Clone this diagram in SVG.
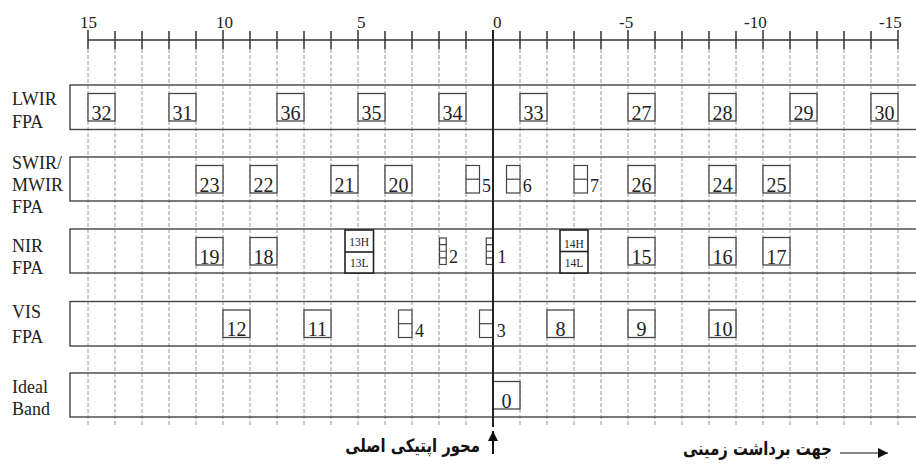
<svg xmlns="http://www.w3.org/2000/svg" width="916" height="465" viewBox="0 0 916 465">
<style>
.bg{fill:#fff}
.grid line{stroke:#8c8c8c;stroke-width:0.9;stroke-dasharray:4 2}
.tick{stroke:#333;stroke-width:1.5}
.ax{font-family:"Liberation Serif","Times New Roman",serif;font-size:17px;fill:#222}
.band{fill:none;stroke:#444;stroke-width:1.4}
.lab{font-family:"Liberation Serif","Times New Roman",serif;font-size:18px;fill:#222}
.box rect,.box line{fill:#fff;stroke:#444;stroke-width:1.3}
.box text{font-family:"Liberation Serif","Times New Roman",serif;font-size:20px;fill:#222;text-anchor:middle}
.sm rect,.sm line{fill:#fff;stroke:#444;stroke-width:1.2}
.sm text{font-family:"Liberation Serif","Times New Roman",serif;font-size:18px;fill:#222}
.hl rect,.hl line{fill:#fff;stroke:#222;stroke-width:1.6}
.hl text{font-family:"Liberation Serif","Times New Roman",serif;font-size:11.5px;fill:#222;text-anchor:middle}
.fa{font-family:"DejaVu Sans","Noto Sans",sans-serif;font-weight:bold;font-size:18.5px;fill:#111;text-anchor:middle}
</style>
<defs>
<marker id="ah" viewBox="0 0 10 10" refX="10" refY="5" markerWidth="20" markerHeight="10" markerUnits="userSpaceOnUse" orient="auto">
<path d="M0,0 L10,5 L0,10 Z" fill="#111"/>
</marker>
</defs>
<rect class="bg" x="0" y="0" width="916" height="465"/>

<g id="grid" class="grid">
<line x1="88" y1="49" x2="88" y2="426"/><line x1="115" y1="49" x2="115" y2="426"/><line x1="142" y1="49" x2="142" y2="426"/><line x1="169" y1="49" x2="169" y2="426"/><line x1="196" y1="49" x2="196" y2="426"/><line x1="223" y1="49" x2="223" y2="426"/><line x1="250" y1="49" x2="250" y2="426"/><line x1="277" y1="49" x2="277" y2="426"/><line x1="304" y1="49" x2="304" y2="426"/><line x1="331" y1="49" x2="331" y2="426"/><line x1="358" y1="49" x2="358" y2="426"/><line x1="385" y1="49" x2="385" y2="426"/><line x1="412" y1="49" x2="412" y2="426"/><line x1="439" y1="49" x2="439" y2="426"/><line x1="466" y1="49" x2="466" y2="426"/><line x1="520" y1="49" x2="520" y2="426"/><line x1="547" y1="49" x2="547" y2="426"/><line x1="574" y1="49" x2="574" y2="426"/><line x1="601" y1="49" x2="601" y2="426"/><line x1="628" y1="49" x2="628" y2="426"/><line x1="655" y1="49" x2="655" y2="426"/><line x1="682" y1="49" x2="682" y2="426"/><line x1="709" y1="49" x2="709" y2="426"/><line x1="736" y1="49" x2="736" y2="426"/><line x1="763" y1="49" x2="763" y2="426"/><line x1="790" y1="49" x2="790" y2="426"/><line x1="817" y1="49" x2="817" y2="426"/><line x1="844" y1="49" x2="844" y2="426"/><line x1="871" y1="49" x2="871" y2="426"/><line x1="898" y1="49" x2="898" y2="426"/>
</g>

<g id="scale">
<line class="tick" x1="88" y1="40" x2="898" y2="40"/>
<path class="tick" d="M88,30V49M115,31V49M142,31V49M169,31V49M196,31V49M223,30V49M250,31V49M277,31V49M304,31V49M331,31V49M358,30V49M385,31V49M412,31V49M439,31V49M466,31V49M520,31V49M547,31V49M574,31V49M601,31V49M628,30V49M655,31V49M682,31V49M709,31V49M736,31V49M763,30V49M790,31V49M817,31V49M844,31V49M871,31V49M898,30V49"/>
<text class="ax" x="80" y="28">15</text>
<text class="ax" x="216" y="28">10</text>
<text class="ax" x="357" y="28">5</text>
<text class="ax" x="493" y="28">0</text>
<text class="ax" x="619" y="28">-5</text>
<text class="ax" x="744" y="28">-10</text>
<text class="ax" x="879" y="28">-15</text>
</g>

<g id="band-lwir"><rect class="band" x="70" y="85" width="860" height="44.5"/><text class="lab" x="12" y="105">LWIR</text><text class="lab" x="12" y="127.7">FPA</text></g>
<g id="band-swir"><rect class="band" x="70" y="157" width="860" height="44"/><text class="lab" x="12" y="169">SWIR/</text><text class="lab" x="12" y="191.3">MWIR</text><text class="lab" x="12" y="213.3">FPA</text></g>
<g id="band-nir"><rect class="band" x="70" y="229" width="860" height="44"/><text class="lab" x="12" y="251.7">NIR</text><text class="lab" x="12" y="274">FPA</text></g>
<g id="band-vis"><rect class="band" x="70" y="301.5" width="860" height="44.5"/><text class="lab" x="12" y="318.3">VIS</text><text class="lab" x="12" y="343.3">FPA</text></g>
<g id="band-ideal"><rect class="band" x="70" y="373" width="860" height="44"/><text class="lab" x="12" y="393.3">Ideal</text><text class="lab" x="12" y="415">Band</text></g>

<!-- LWIR boxes -->
<g id="b32" class="box"><rect x="88" y="93.5" width="27" height="27.5"/><text x="101.5" y="119.5">32</text></g>
<g id="b31" class="box"><rect x="169" y="93.5" width="27" height="27.5"/><text x="182.5" y="119.5">31</text></g>
<g id="b36" class="box"><rect x="277" y="93.5" width="27" height="27.5"/><text x="290.5" y="119.5">36</text></g>
<g id="b35" class="box"><rect x="358" y="93.5" width="27" height="27.5"/><text x="371.5" y="119.5">35</text></g>
<g id="b34" class="box"><rect x="439" y="93.5" width="27" height="27.5"/><text x="452.5" y="119.5">34</text></g>
<g id="b33" class="box"><rect x="520" y="93.5" width="27" height="27.5"/><text x="533.5" y="119.5">33</text></g>
<g id="b27" class="box"><rect x="628" y="93.5" width="27" height="27.5"/><text x="641.5" y="119.5">27</text></g>
<g id="b28" class="box"><rect x="709" y="93.5" width="27" height="27.5"/><text x="722.5" y="119.5">28</text></g>
<g id="b29" class="box"><rect x="790" y="93.5" width="27" height="27.5"/><text x="803.5" y="119.5">29</text></g>
<g id="b30" class="box"><rect x="871" y="93.5" width="27" height="27.5"/><text x="884.5" y="119.5">30</text></g>

<!-- SWIR boxes -->
<g id="b23" class="box"><rect x="196" y="165.5" width="27" height="27.5"/><text x="209.5" y="191.5">23</text></g>
<g id="b22" class="box"><rect x="250" y="165.5" width="27" height="27.5"/><text x="263.5" y="191.5">22</text></g>
<g id="b21" class="box"><rect x="331" y="165.5" width="27" height="27.5"/><text x="344.5" y="191.5">21</text></g>
<g id="b20" class="box"><rect x="385" y="165.5" width="27" height="27.5"/><text x="398.5" y="191.5">20</text></g>
<g id="b26" class="box"><rect x="628" y="165.5" width="27" height="27.5"/><text x="641.5" y="191.5">26</text></g>
<g id="b24" class="box"><rect x="709" y="165.5" width="27" height="27.5"/><text x="722.5" y="191.5">24</text></g>
<g id="b25" class="box"><rect x="763" y="165.5" width="27" height="27.5"/><text x="776.5" y="191.5">25</text></g>
<g id="b5" class="sm"><rect x="466" y="165.5" width="13.5" height="27.5"/><line x1="466" y1="179.2" x2="479.5" y2="179.2"/><text x="482" y="192">5</text></g>
<g id="b6" class="sm"><rect x="506.5" y="165.5" width="13.5" height="27.5"/><line x1="506.5" y1="179.2" x2="520" y2="179.2"/><text x="522.7" y="192">6</text></g>
<g id="b7" class="sm"><rect x="574" y="165.5" width="13.5" height="27.5"/><line x1="574" y1="179.2" x2="587.5" y2="179.2"/><text x="590" y="192">7</text></g>

<!-- NIR boxes -->
<g id="b19" class="box"><rect x="196" y="237.5" width="27" height="27.5"/><text x="209.5" y="263.5">19</text></g>
<g id="b18" class="box"><rect x="250" y="237.5" width="27" height="27.5"/><text x="263.5" y="263.5">18</text></g>
<g id="b15" class="box"><rect x="628" y="237.5" width="27" height="27.5"/><text x="641.5" y="263.5">15</text></g>
<g id="b16" class="box"><rect x="709" y="237.5" width="27" height="27.5"/><text x="722.5" y="263.5">16</text></g>
<g id="b17" class="box"><rect x="763" y="237.5" width="27" height="27.5"/><text x="776.5" y="263.5">17</text></g>
<g id="b13" class="hl"><rect x="345" y="230" width="28.5" height="43"/><line x1="345" y1="252" x2="373.5" y2="252"/><text x="359.2" y="245.5">13H</text><text x="359.2" y="267">13L</text></g>
<g id="b14" class="hl"><rect x="560" y="230" width="28" height="43"/><line x1="560" y1="251.5" x2="588" y2="251.5"/><text x="574" y="247.5">14H</text><text x="574" y="267">14L</text></g>
<g id="b2" class="sm"><rect x="439.5" y="238" width="6.75" height="26.5"/><path d="M439.5,244.6H446.25M439.5,251.25H446.25M439.5,257.9H446.25" fill="none" stroke="#444" stroke-width="1.1"/><text x="449" y="263">2</text></g>
<g id="b1" class="sm"><rect x="486.25" y="238" width="6.75" height="26.5"/><path d="M486.25,244.6H493M486.25,251.25H493M486.25,257.9H493" fill="none" stroke="#444" stroke-width="1.1"/><text x="497.5" y="263">1</text></g>

<!-- VIS boxes -->
<g id="b12" class="box"><rect x="223" y="310" width="27" height="27.5"/><text x="236.5" y="336">12</text></g>
<g id="b11" class="box"><rect x="304" y="310" width="27" height="27.5"/><text x="317.5" y="336">11</text></g>
<g id="b8" class="box"><rect x="547" y="310" width="27" height="27.5"/><text x="560.5" y="336">8</text></g>
<g id="b9" class="box"><rect x="628" y="310" width="27" height="27.5"/><text x="641.5" y="336">9</text></g>
<g id="b10" class="box"><rect x="709" y="310" width="27" height="27.5"/><text x="722.5" y="336">10</text></g>
<g id="b4" class="sm"><rect x="398.5" y="310" width="13.5" height="27.5"/><line x1="398.5" y1="323.7" x2="412" y2="323.7"/><text x="415" y="337">4</text></g>
<g id="b3" class="sm"><rect x="479.5" y="310" width="13.5" height="27.5"/><line x1="479.5" y1="323.7" x2="493" y2="323.7"/><text x="496.7" y="337">3</text></g>

<!-- Ideal band -->
<g id="b0" class="box"><rect x="493" y="381.5" width="27" height="27.5"/><text x="506.5" y="407.5">0</text></g>

<g id="connectors">
<line x1="493" y1="30" x2="493" y2="427" stroke="#222" stroke-width="2"/>
<line x1="493" y1="454" x2="493" y2="431" stroke="#111" stroke-width="2" marker-end="url(#ah)"/>
<line x1="840" y1="453" x2="888" y2="453" stroke="#111" stroke-width="1.1" marker-end="url(#ah)"/>
</g>

<g id="captions">
<text class="fa" transform="translate(412.5,452) scale(0.8,1)">محور اپتیکی اصلی</text>
<text class="fa" transform="translate(757.5,455) scale(0.8,1)">جهت برداشت زمینی</text>
</g>
</svg>
